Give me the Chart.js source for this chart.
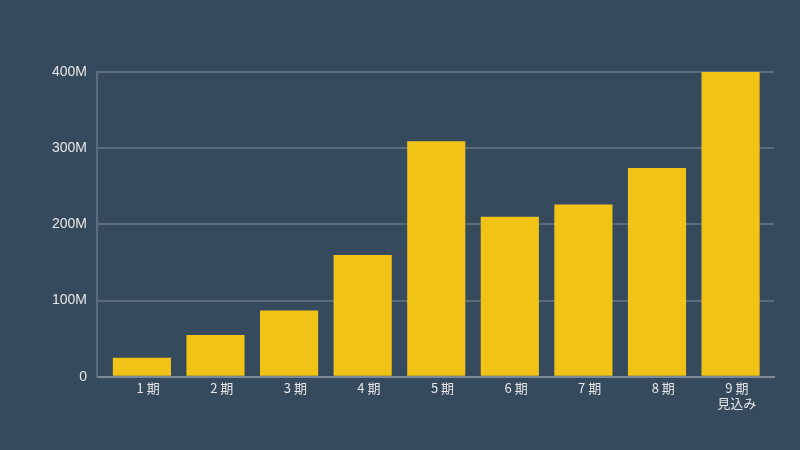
<!DOCTYPE html>
<html>
<head>
<meta charset="utf-8">
<script src="https://cdn.jsdelivr.net/npm/chart.js@4"></script>
<style>
  html, body { margin: 0; padding: 0; background: #364a5e; }
  #wrap { width: 800px; height: 450px; }
</style>
</head>
<body>
<div id="wrap"><canvas id="salesChart"></canvas></div>
<script>
// --- データ ---
const periods = [['1 期'], ['2 期'], ['3 期'], ['4 期'], ['5 期'], ['6 期'], ['7 期'], ['8 期'], ['9 期', '見込み']];
const sales = [25, 55, 87, 160, 309, 210, 226, 274, 400]; // 単位: M
const yTicks = [0, 100, 200, 300, 400];

const labelShift = 0.085; // ラベルを少し右へ

const ctx = document.getElementById('salesChart').getContext('2d');
new Chart(ctx, {
    type: 'bar',
    data: {
        datasets: [{
            data: sales.map((v, i) => ({ x: i, y: v })),
            backgroundColor: '#f1c317',
            borderWidth: 0,
            barPercentage: 0.79,
            categoryPercentage: 1
        }]
    },
    options: {
        responsive: true,
        maintainAspectRatio: false,
        animation: false,
        layout: { padding: { top: 72, right: 26, bottom: 36, left: 42 } },
        plugins: { legend: { display: false }, tooltip: { enabled: false } },
        scales: {
            x: {
                type: 'linear',
                min: -0.61,
                max: 8.59,
                offset: false,
                afterBuildTicks: (axis) => { axis.ticks = periods.map((p, i) => ({ value: i + labelShift })); },
                grid: { display: false, drawTicks: false },
                border: { color: '#7d8a97', width: 2 },
                ticks: {
                    color: '#e6e6e6',
                    font: { family: 'Noto Sans CJK JP', size: 13 },
                    padding: 3,
                    maxRotation: 0,
                    autoSkip: false,
                    callback: (v) => periods[Math.round(v)]
                }
            },
            y: {
                min: 0,
                max: 400,
                afterBuildTicks: (axis) => { axis.ticks = yTicks.map(v => ({ value: v })); },
                grid: { color: '#5a6b7b', lineWidth: 2, drawTicks: false },
                border: { color: '#5a6b7b', width: 2 },
                ticks: {
                    color: '#e6e6e6',
                    font: { family: 'Liberation Sans', size: 14 },
                    padding: 10,
                    callback: (v) => v === 0 ? '0' : v + 'M'
                }
            }
        }
    }
});
</script>
</body>
</html>
